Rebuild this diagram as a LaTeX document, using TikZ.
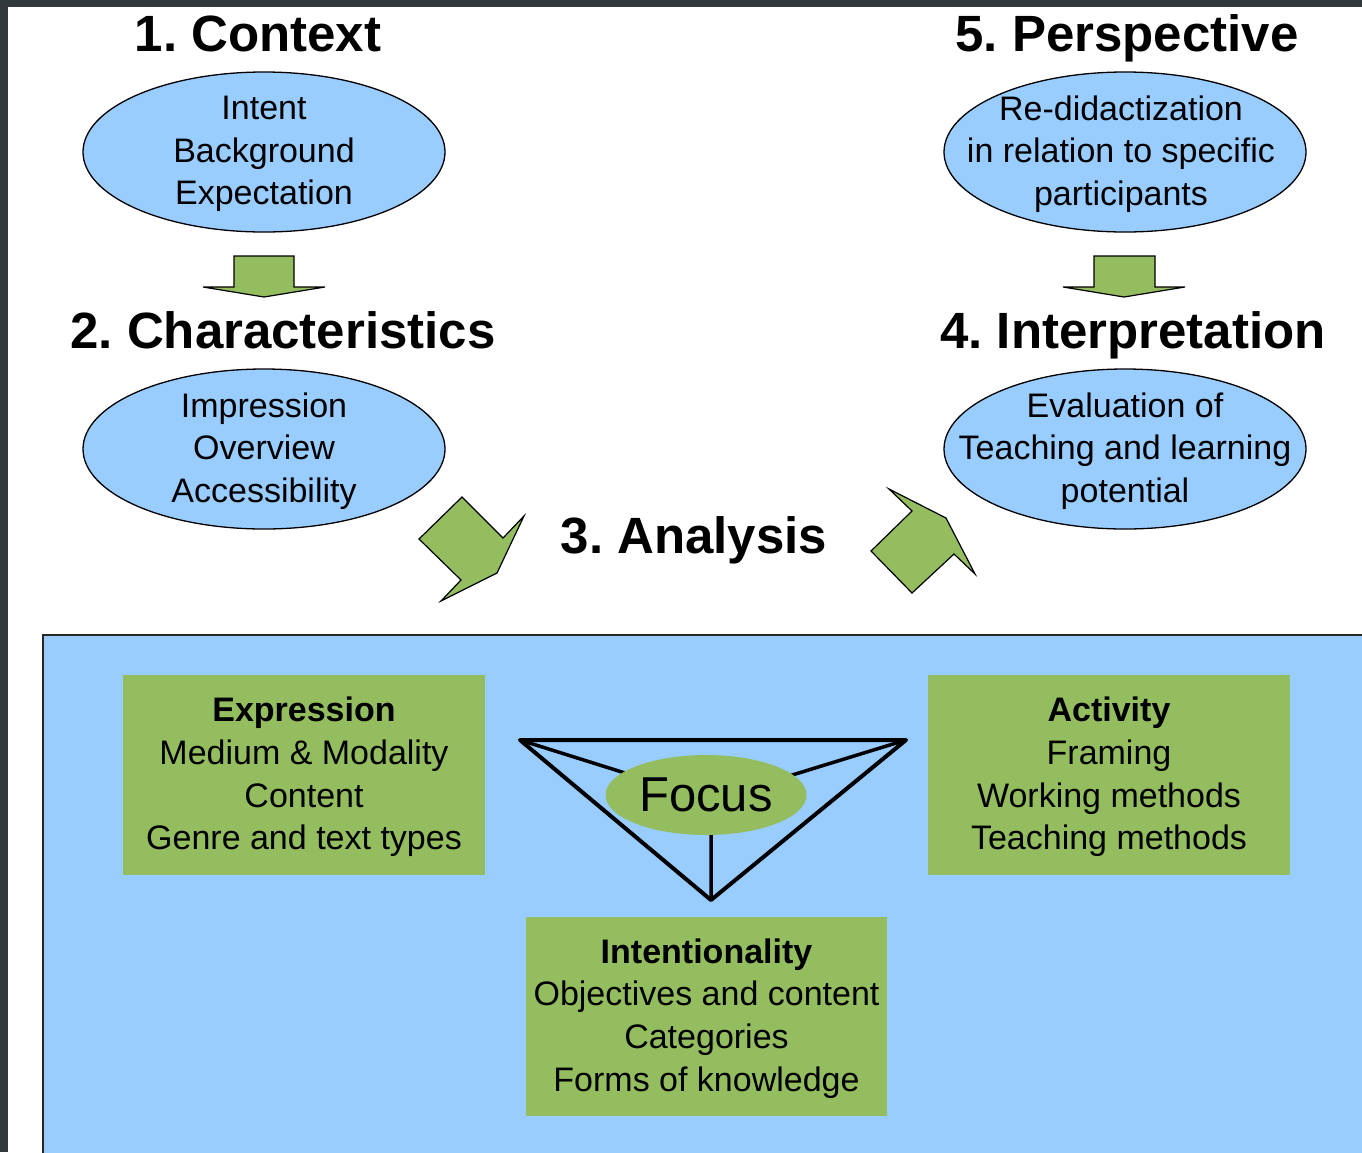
\documentclass[tikz,border=0pt]{standalone}
\usepackage{fontspec}
\setmainfont{Liberation Sans}
\usetikzlibrary{shapes.geometric}
\definecolor{skyb}{RGB}{153,204,255}
\definecolor{leaf}{RGB}{147,189,94}
\definecolor{frame}{RGB}{50,57,61}
\tikzset{
  bubble/.style={ellipse, draw=black, line width=1.3pt, fill=skyb, minimum width=362pt, minimum height=160pt, inner sep=0pt},
  bubtext/.style={align=center, inner sep=0pt, yshift=-2pt, font=\fontsize{34}{42.5}\selectfont},
  heading/.style={anchor=base, font=\fontsize{51}{60}\selectfont\bfseries, inner sep=0pt},
  gbox/.style={fill=leaf, draw=none, minimum width=362pt, minimum height=200pt, inner sep=0pt, align=center, font=\fontsize{34}{42.7}\selectfont},
  gtext/.style={yshift=-2pt},
  garrow/.style={fill=leaf, draw=black, line width=1.2pt, line join=miter},
  tri/.style={line width=4pt, line cap=round, line join=round},
}
\begin{document}
\frenchspacing
\begin{tikzpicture}[x=1pt,y=-1pt]
\useasboundingbox (0,0) rectangle (1362,1152);
\fill[white] (0,0) rectangle (1362,1152);

% bottom blue panel
\draw[fill=skyb, line width=2pt, draw=black!85] (43,635) rectangle (1366,1156);

% headings
\node[heading] (h1) at (258,51) {1. Context};
\node[heading] (h2) at (283,348) {2. Characteristics};
\node[heading] (h3) at (694,553) {3. Analysis};
\node[heading] (h4) at (1133,348) {4. Interpretation};
\node[heading] (h5) at (1127,51) {5. Perspective};

% ellipses
\node[bubble] (e1) at (264,152) {};
\node[bubtext] (t1) at (e1) {Intent\\Background\\Expectation};
\node[bubble] (e2) at (264,449) {};
\node[bubtext] (t2) at (e2) {Impression\\Overview\\Accessibility};
\node[bubble] (e4) at (1125,449) {};
\node[bubtext] (t4) at (e4) {Evaluation of\\Teaching and learning\\potential};
\node[bubble] (e5) at (1125,152) {};
\node[bubtext, xshift=-4pt] (t5) at (e5) {Re-didactization\\in relation to specific\\participants};

% small down arrows
\draw[garrow] (234,256) -- (294,256) -- (294,287) -- (325,287) -- (264,297) -- (203,287) -- (234,287) -- cycle;
\draw[garrow] (1094,256) -- (1155,256) -- (1155,287) -- (1185,287) -- (1124,297) -- (1063,287) -- (1094,287) -- cycle;

% big arrows
\draw[garrow] (462,497) -- (503,538) -- (524,516) -- (497,573) -- (441,601) -- (461,580) -- (419,539) -- cycle;
\draw[garrow] (889,489) -- (946,518) -- (975,574) -- (954,554) -- (912,593) -- (871,551) -- (912,511) -- cycle;

% green boxes
\node[gbox] (expr) at (304,775) {};
\node[gbox, fill=none, gtext] (exprt) at (expr) {\textbf{Expression}\\Medium \& Modality\\Content\\Genre and text types};
\node[gbox] (act) at (1109,775) {};
\node[gbox, fill=none, gtext] (actt) at (act) {\textbf{Activity}\\Framing\\Working methods\\Teaching methods};
\node[gbox, minimum width=361pt, minimum height=199pt] (intent) at (706.5,1016.5) {};
\node[gbox, fill=none, gtext] (intentt) at (intent) {\textbf{Intentionality}\\Objectives and content\\Categories\\Forms of knowledge};

% focus triangle
\coordinate (tl) at (520,740);
\coordinate (tr) at (906,740);
\coordinate (tb) at (711,900);
\coordinate (fc) at (711,800);
\draw[tri] (tl) -- (tr) -- (tb) -- cycle;
\draw[line width=3.5pt] (tl) -- (fc) (tr) -- (fc) (tb) -- (fc);
\node[ellipse, fill=leaf, minimum width=201pt, minimum height=80pt, inner sep=0pt, font=\fontsize{49}{58}\selectfont] (focus) at (706,795) {Focus};

% dark frame
\fill[frame] (0,0) rectangle (8,1152);
\fill[frame] (0,0) rectangle (1362,7);
\end{tikzpicture}
\end{document}
